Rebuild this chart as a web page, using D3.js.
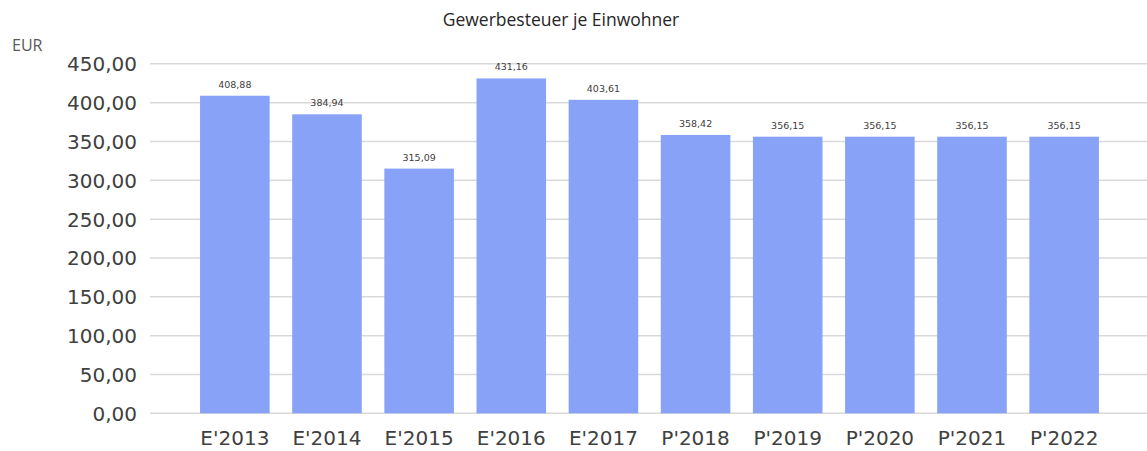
<!DOCTYPE html>
<html><head><meta charset="utf-8">
<script src="https://cdn.jsdelivr.net/npm/d3@7"></script>
<style>body{margin:0;background:#fff}</style>
</head><body>
<svg id="c" width="1147" height="451"></svg>
<script>
const categories = ["E'2013","E'2014","E'2015","E'2016","E'2017","P'2018","P'2019","P'2020","P'2021","P'2022"];
const values = [408.88,384.94,315.09,431.16,403.61,358.42,356.15,356.15,356.15,356.15];
const yTicks = [0,50,100,150,200,250,300,350,400,450];
const title = "Gewerbesteuer je Einwohner";
const unit = "EUR";

const svg = d3.select("#c");
const fmt = v => v.toFixed(2).replace(".", ",");
const x = d3.scaleBand().domain(categories).range([189, 1110]).paddingInner(0.245).paddingOuter(0.12);
const y = d3.scaleLinear().domain([0, 450]).range([413.3, 63.8]);

const yAxis = d3.axisLeft(y).tickValues(yTicks).tickFormat(fmt).tickSize(0).tickPadding(0);
const gy = svg.append("g").attr("transform","translate(137,0)").call(yAxis);
gy.select(".domain").remove();
gy.selectAll("text").attr("font-family","DejaVu Sans, Verdana, sans-serif").attr("font-size",20).attr("fill","#404040").attr("dy","0.35em");

svg.append("g").selectAll("line").data(yTicks).join("line")
  .attr("x1",150).attr("x2",1147)
  .attr("y1",d=>y(d)).attr("y2",d=>y(d))
  .attr("stroke","#d9d9d9").attr("stroke-width",1.5);

svg.append("g").selectAll("rect").data(values).join("rect")
  .attr("x",(d,i)=>x(categories[i])).attr("width",x.bandwidth())
  .attr("y",d=>y(d)).attr("height",d=>y(0)-y(d))
  .attr("fill","#87a2f7");

svg.append("g").selectAll("text").data(values).join("text")
  .attr("x",(d,i)=>x(categories[i])+x.bandwidth()/2)
  .attr("y",d=>y(d)-8)
  .attr("text-anchor","middle")
  .attr("font-family","DejaVu Sans, Verdana, sans-serif").attr("font-size",9.5).attr("fill","#404040")
  .text(fmt);

const xAxis = d3.axisBottom(x).tickSize(0).tickPadding(0);
const gx = svg.append("g").attr("transform","translate(0,413.3)").call(xAxis);
gx.select(".domain").remove();
gx.selectAll("text").attr("font-family","DejaVu Sans, Verdana, sans-serif").attr("font-size",20).attr("fill","#404040").attr("dy","1.6em");

svg.append("text").attr("x",561).attr("y",26).attr("text-anchor","middle")
  .attr("font-family","Open Sans, sans-serif").attr("font-size",17.5).attr("fill","#262626").text(title);
svg.append("text").attr("x",12).attr("y",51)
  .attr("font-family","Open Sans, sans-serif").attr("font-size",16).attr("fill","#595959").text(unit);
</script>
</body></html>
